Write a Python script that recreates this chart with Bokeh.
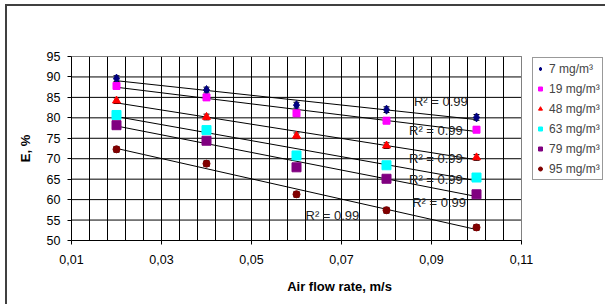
import numpy as np
from bokeh.plotting import figure
from bokeh.models import (Range1d, FixedTicker, ColumnDataSource, Whisker, TeeHead,
                          Legend, LegendItem)
from bokeh.core.properties import value
from bokeh.embed import file_html
from bokeh.resources import INLINE

# ---- data ----
air_flow = [0.02, 0.04, 0.06, 0.08, 0.10]
series_names = ["7 mg/m³", "19 mg/m³", "48 mg/m³", "63 mg/m³", "79 mg/m³", "95 mg/m³"]
e_7 = [89.6, 86.8, 83.1, 82.0, 80.1]
e_19 = [87.8, 85.0, 81.1, 79.3, 77.1]
e_48 = [84.2, 80.2, 75.6, 73.2, 70.3]
e_63 = [80.7, 77.0, 70.8, 68.4, 65.4]
e_79 = [78.2, 74.4, 67.9, 65.1, 61.3]
e_95 = [72.3, 68.8, 61.3, 57.4, 53.2]
err = 0.7
r2_text = ["R² = 0.99"] * 6
label_x = [0.0861, 0.0850, 0.0850, 0.0850, 0.0857, 0.0620]
label_y = [83.9, 76.8, 70.15, 65.0, 59.3, 56.0]
x_tick_values = [0.01, 0.03, 0.05, 0.07, 0.09, 0.11]
x_tick_labels = ["0,01", "0,03", "0,05", "0,07", "0,09", "0,11"]
y_tick_values = [50, 55, 60, 65, 70, 75, 80, 85, 90, 95]
x_min, x_max, y_min, y_max = 0.01, 0.11, 50, 95

all_series = [e_7, e_19, e_48, e_63, e_79, e_95]
styles = [
    ("diamond", "#000080", 9),
    ("square", "#FF00FF", 7),
    ("triangle", "#FF0000", 8),
    ("square", "#00FFFF", 9),
    ("square", "#800080", 9),
    ("circle", "#800000", 7),
]

FONT = "Liberation Sans"

W, H = 600, 300
B_LEFT, B_TOP, B_BOTTOM = 64, 50, 66
frame_px_width = W - B_LEFT
x_end = x_min + (x_max - x_min) * frame_px_width / 450.0

p = figure(width=W, height=H, output_backend="svg", toolbar_location=None,
           x_range=Range1d(x_min, x_end), y_range=Range1d(y_min, y_max),
           min_border_left=B_LEFT, min_border_right=0, min_border_top=B_TOP,
           min_border_bottom=B_BOTTOM)
p.styles = {"margin-left": "5px", "margin-top": "4px",
            "border-left": "2px solid #404040", "border-top": "2px solid #404040"}
p.background_fill_color = "white"
p.border_fill_color = "white"
p.outline_line_color = None

# grids
p.xgrid.ticker = FixedTicker(ticks=list(np.round(np.arange(0.01, 0.1101, 0.004), 4)))
p.xgrid.grid_line_color = "black"
p.xgrid.grid_line_width = 1
p.ygrid.grid_line_color = None
p.segment(x0=[x_min] * len(y_tick_values), x1=[x_max] * len(y_tick_values),
          y0=y_tick_values, y1=y_tick_values, line_color="black", line_width=1)
# plot-area outline
p.quad(left=[x_min], right=[x_max], bottom=[y_min], top=[y_max],
       fill_color=None, line_color="#808080", line_width=1)

# axes
p.xaxis.ticker = FixedTicker(ticks=x_tick_values)
p.xaxis.major_label_overrides = dict(zip(x_tick_values, x_tick_labels))
p.xaxis.bounds = (x_min, x_max)
p.yaxis.ticker = FixedTicker(ticks=y_tick_values)
for ax in (p.xaxis, p.yaxis):
    ax.axis_line_color = "black"
    ax.major_tick_line_color = "black"
    ax.major_tick_in = 0
    ax.major_tick_out = 4
    ax.minor_tick_line_color = None
    ax.major_label_text_font = FONT
    ax.major_label_text_font_size = "12.5px"
    ax.major_label_text_color = "black"
    ax.axis_label_text_font = FONT
    ax.axis_label_text_font_size = "13px"
    ax.axis_label_text_font_style = "bold"
    ax.axis_label_text_color = "black"
p.xaxis.axis_label = "Air flow rate, m/s"
p.yaxis.axis_label = "E, %"
p.xaxis.major_label_standoff = 10
p.xaxis.axis_label_standoff = 12
p.yaxis.major_label_standoff = 7
p.yaxis.axis_label_standoff = 11

# trend lines (linear fit)
xs_fit = np.array([air_flow[0], air_flow[-1]])
for ys in all_series:
    k, b = np.polyfit(air_flow, ys, 1)
    p.line(xs_fit, k * xs_fit + b, line_color="black", line_width=1)

items = []
for name, ys, (marker, color, size) in zip(series_names, all_series, styles):
    src = ColumnDataSource(dict(x=air_flow, y=ys,
                                lo=[v - err for v in ys], hi=[v + err for v in ys]))
    w = Whisker(source=src, base="x", lower="lo", upper="hi", line_color="black",
                line_width=1, level="underlay",
                upper_head=TeeHead(size=6, line_color="black", line_width=1),
                lower_head=TeeHead(size=6, line_color="black", line_width=1))
    p.add_layout(w)
    r = p.scatter("x", "y", source=src, marker=marker, size=size,
                  fill_color=color, line_color=color)
    items.append(LegendItem(label=name, renderers=[r]))

p.text(x=label_x, y=label_y, text=r2_text, text_font=value(FONT),
       text_font_size="13px", text_color="#222222", text_align="left",
       text_baseline="middle")

legend = Legend(items=items, location=(461, 60), margin=0, padding=2, spacing=3,
                glyph_width=10, glyph_height=17, label_height=17, label_standoff=4,
                label_text_font=FONT, label_text_font_size="12px",
                border_line_color="#333333", border_line_width=1,
                background_fill_color="white", background_fill_alpha=1)
p.add_layout(legend)

open("out.html", "w").write(file_html(p, INLINE))
